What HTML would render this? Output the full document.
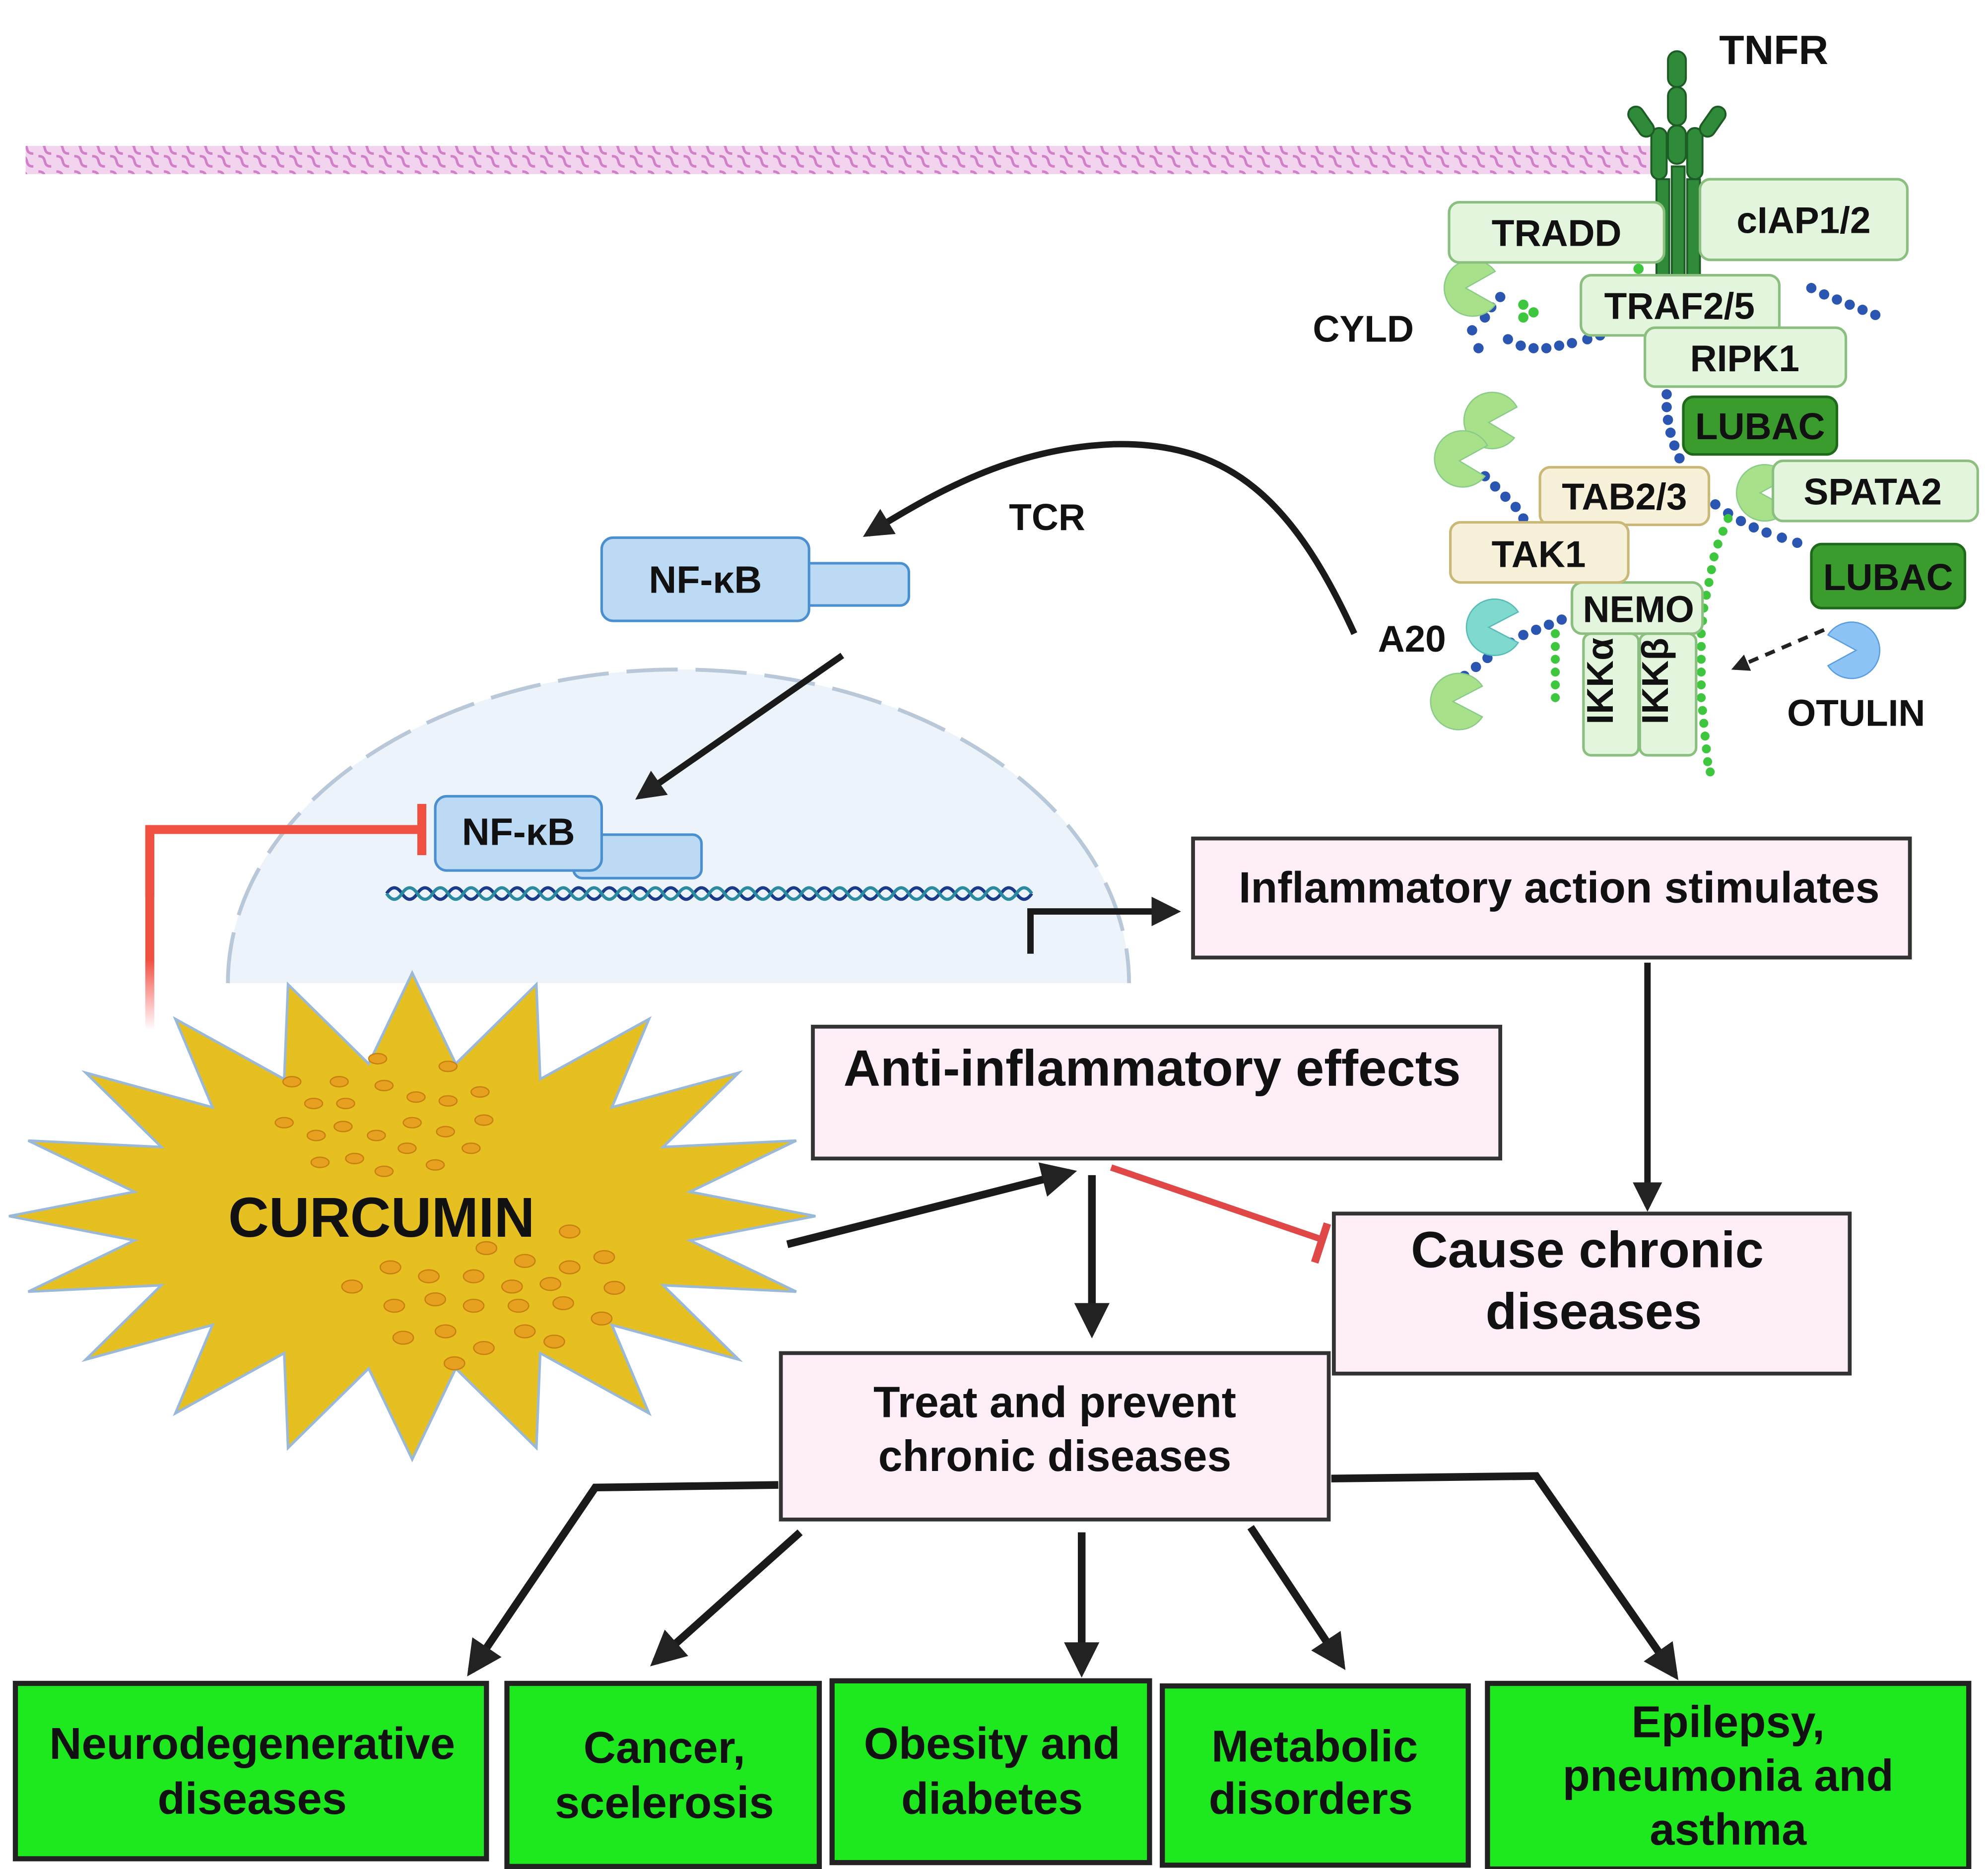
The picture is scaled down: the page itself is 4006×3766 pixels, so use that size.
<!DOCTYPE html>
<html><head><meta charset="utf-8"><style>
html,body{margin:0;padding:0;background:#fff;}
svg{display:block;}
text{font-family:"Liberation Sans",sans-serif;font-weight:bold;fill:#111;}
</style></head><body>
<svg width="4006" height="3766" viewBox="0 0 1553 1460" xmlns="http://www.w3.org/2000/svg">
<defs>
<marker id="ah" viewBox="0 0 10 10" refX="8" refY="5" markerWidth="4.6" markerHeight="4.6" orient="auto"><path d="M0,0 L10,5 L0,10 z" fill="#222"/></marker>
<linearGradient id="rg" x1="0" y1="1" x2="0" y2="0"><stop offset="0" stop-color="#f55" stop-opacity="0"/><stop offset="0.35" stop-color="#f05040"/><stop offset="1" stop-color="#f05040"/></linearGradient>
<pattern id="mem" width="14" height="22" patternUnits="userSpaceOnUse"><path d="M2,2 C10,2 4,10 12,10 M2,12 C10,12 4,20 12,20" stroke="#d080c8" stroke-width="2" fill="none"/></pattern>
</defs>
<rect x="20" y="114" width="1280" height="22" fill="#f3d4ee"/>
<rect x="20" y="114" width="1280" height="22" fill="url(#mem)"/>
<g fill="#2f8a3a" stroke="#1d5c25" stroke-width="1.5">
<rect x="1303" y="40" width="14" height="28" rx="7"/><rect x="1303" y="68" width="14" height="30" rx="7"/>
<rect x="1303" y="98" width="14" height="30" rx="7"/>
<rect x="1290" y="100" width="12" height="40" rx="6"/><rect x="1318" y="100" width="12" height="40" rx="6"/>
<rect x="1276" y="82" width="12" height="26" rx="6" transform="rotate(-35 1282 95)"/><rect x="1332" y="82" width="12" height="26" rx="6" transform="rotate(35 1338 95)"/>
<rect x="1294" y="140" width="10" height="75"/><rect x="1306" y="130" width="10" height="85"/><rect x="1318" y="140" width="10" height="75"/>
</g>
<text x="1343" y="50" font-size="32" fill="#222">TNFR</text>
<g fill="#2a55b0">
<circle cx="1155" cy="272" r="4"/><circle cx="1165" cy="240" r="4"/><circle cx="1172" cy="232" r="4"/><circle cx="1160" cy="248" r="4"/><circle cx="1150" cy="258" r="4"/>
<circle cx="1178" cy="265" r="4"/><circle cx="1188" cy="270" r="4"/><circle cx="1198" cy="272" r="4"/><circle cx="1208" cy="272" r="4"/><circle cx="1218" cy="270" r="4"/><circle cx="1228" cy="268" r="4"/><circle cx="1240" cy="265" r="4"/><circle cx="1250" cy="262" r="4"/>
<circle cx="1415" cy="225" r="4"/><circle cx="1425" cy="230" r="4"/><circle cx="1435" cy="234" r="4"/><circle cx="1445" cy="238" r="4"/><circle cx="1455" cy="242" r="4"/><circle cx="1465" cy="246" r="4"/>
<circle cx="1302" cy="298" r="4"/><circle cx="1302" cy="308" r="4"/><circle cx="1302" cy="318" r="4"/><circle cx="1303" cy="328" r="4"/><circle cx="1305" cy="338" r="4"/><circle cx="1308" cy="348" r="4"/><circle cx="1312" cy="358" r="4"/><circle cx="1318" cy="368" r="4"/><circle cx="1325" cy="377" r="4"/><circle cx="1332" cy="386" r="4"/><circle cx="1340" cy="394" r="4"/><circle cx="1350" cy="401" r="4"/><circle cx="1360" cy="407" r="4"/><circle cx="1370" cy="412" r="4"/><circle cx="1380" cy="416" r="4"/><circle cx="1392" cy="420" r="4"/><circle cx="1404" cy="424" r="4"/>
<circle cx="1160" cy="372" r="4"/><circle cx="1168" cy="380" r="4"/><circle cx="1176" cy="388" r="4"/><circle cx="1184" cy="396" r="4"/><circle cx="1190" cy="405" r="4"/><circle cx="1195" cy="414" r="4"/>
<circle cx="1135" cy="535" r="4"/><circle cx="1144" cy="528" r="4"/><circle cx="1153" cy="521" r="4"/><circle cx="1162" cy="514" r="4"/><circle cx="1180" cy="502" r="4"/><circle cx="1190" cy="496" r="4"/><circle cx="1200" cy="492" r="4"/><circle cx="1210" cy="488" r="4"/><circle cx="1220" cy="484" r="4"/>
</g>
<g fill="#3ec63e">
<circle cx="1190" cy="238" r="4"/><circle cx="1198" cy="244" r="4"/><circle cx="1190" cy="248" r="4"/><circle cx="1280" cy="210" r="4"/>
<circle cx="1215" cy="495" r="3.5"/><circle cx="1215" cy="505" r="3.5"/><circle cx="1215" cy="515" r="3.5"/><circle cx="1215" cy="525" r="3.5"/><circle cx="1215" cy="535" r="3.5"/><circle cx="1215" cy="545" r="3.5"/>
<circle cx="1350" cy="405" r="3.5"/><circle cx="1346" cy="415" r="3.5"/><circle cx="1342" cy="425" r="3.5"/><circle cx="1339" cy="435" r="3.5"/><circle cx="1337" cy="445" r="3.5"/><circle cx="1335" cy="455" r="3.5"/><circle cx="1333" cy="465" r="3.5"/><circle cx="1331" cy="475" r="3.5"/><circle cx="1330" cy="485" r="3.5"/><circle cx="1329" cy="495" r="3.5"/><circle cx="1329" cy="505" r="3.5"/><circle cx="1329" cy="515" r="3.5"/><circle cx="1329" cy="525" r="3.5"/><circle cx="1329" cy="535" r="3.5"/><circle cx="1329" cy="545" r="3.5"/><circle cx="1330" cy="555" r="3.5"/><circle cx="1331" cy="565" r="3.5"/><circle cx="1332" cy="575" r="3.5"/><circle cx="1333" cy="585" r="3.5"/><circle cx="1334" cy="595" r="3.5"/><circle cx="1336" cy="603" r="3.5"/>
</g>
<g fill="#a9e08a" stroke="#8c8" stroke-width="1">
<path d="M1145,225 L1168,212 A22,22 0 1,0 1168,238 Z"/>
<path d="M1163,330 L1185,318 A22,22 0 1,0 1183,342 Z"/>
<path d="M1140,360 L1162,348 A22,22 0 1,0 1160,372 Z"/>
<path d="M1135,548 L1158,536 A22,22 0 1,0 1158,560 Z"/>
<path d="M1375,385 L1397,373 A22,22 0 1,0 1397,397 Z"/>
</g>
<path d="M1163,490 L1186,478 A22,22 0 1,0 1186,502 Z" fill="#7fd9cc" stroke="#5bb" stroke-width="1"/>
<path d="M1450,508 L1428,496 A22,22 0 1,1 1428,520 Z" fill="#8ec4f5" stroke="#5a9ee0" stroke-width="1"/>
<g stroke="#8bbf80" stroke-width="2" fill="#e3f5dc">
<rect x="1132" y="158" width="168" height="47" rx="8"/>
<rect x="1328" y="140" width="162" height="63" rx="8"/>
<rect x="1235" y="215" width="155" height="47" rx="8"/>
<rect x="1285" y="256" width="157" height="46" rx="8"/>
<rect x="1385" y="360" width="160" height="47" rx="8"/>
<rect x="1228" y="455" width="102" height="40" rx="8"/>
<rect x="1237" y="495" width="43" height="95" rx="6"/>
<rect x="1281" y="495" width="44" height="95" rx="6"/>
</g>
<g stroke="#c9b878" stroke-width="2" fill="#f6f1d8">
<rect x="1203" y="365" width="132" height="45" rx="8"/>
<rect x="1133" y="408" width="139" height="47" rx="8"/>
</g>
<g stroke="#1f6a1a" stroke-width="2" fill="#3a9c2c">
<rect x="1315" y="310" width="120" height="45" rx="8"/>
<rect x="1415" y="425" width="120" height="50" rx="8"/>
</g>
<g font-size="29">
<text x="1216" y="192" text-anchor="middle">TRADD</text>
<text x="1409" y="182" text-anchor="middle">cIAP1/2</text>
<text x="1312" y="249" text-anchor="middle">TRAF2/5</text>
<text x="1363" y="290" text-anchor="middle">RIPK1</text>
<text x="1375" y="343" text-anchor="middle" fill="#5a1010">LUBAC</text>
<text x="1269" y="398" text-anchor="middle">TAB2/3</text>
<text x="1463" y="394" text-anchor="middle">SPATA2</text>
<text x="1202" y="443" text-anchor="middle">TAK1</text>
<text x="1475" y="461" text-anchor="middle" fill="#111">LUBAC</text>
<text x="1280" y="486" text-anchor="middle">NEMO</text>
<text x="1270" y="542" text-anchor="middle" transform="rotate(-90 1260 542)">IKKα</text>
<text x="1313" y="542" text-anchor="middle" transform="rotate(-90 1303 542)">IKKβ</text>
<text x="1065" y="267" text-anchor="middle" fill="#333">CYLD</text>
<text x="1103" y="509" text-anchor="middle" fill="#333">A20</text>
<text x="1450" y="567" text-anchor="middle" fill="#333">OTULIN</text>
<text x="818" y="414" text-anchor="middle" fill="#333">TCR</text>
</g>
<path d="M1425,492 L1355,522" stroke="#222" stroke-width="3" stroke-dasharray="8,6" fill="none" marker-end="url(#ah)"/>
<path d="M1058,495 C1010,390 960,345 870,347 C790,350 730,385 678,417" stroke="#1a1a1a" stroke-width="5" fill="none" marker-end="url(#ah)"/>
<rect x="620" y="440" width="90" height="33" rx="7" fill="#bcdaf4" stroke="#4a90d0" stroke-width="2"/>
<rect x="470" y="420" width="162" height="65" rx="9" fill="#bcdaf4" stroke="#4a90d0" stroke-width="2"/>
<text x="551" y="463" text-anchor="middle" font-size="30">NF-κB</text>
<path d="M178,768 A352,245 0 0,1 882,768 Z" fill="#edf3fa"/>
<path d="M182,752 A352,245 0 0,1 882,768" fill="none" stroke="#b8c8d8" stroke-width="3" stroke-dasharray="40,14" transform="translate(0,0)" opacity="0"/>
<path d="M178,768 A352,245 0 0,1 882,768" fill="none" stroke="#b8c8d8" stroke-width="3" stroke-dasharray="40,14"/>
<path d="M658,512 L500,622" stroke="#1a1a1a" stroke-width="5" fill="none" marker-end="url(#ah)"/>
<rect x="448" y="652" width="100" height="34" rx="7" fill="#bcdaf4" stroke="#4a90d0" stroke-width="2"/>
<rect x="340" y="622" width="130" height="58" rx="9" fill="#bcdaf4" stroke="#4a90d0" stroke-width="2"/>
<text x="405" y="660" text-anchor="middle" font-size="30">NF-κB</text>
<path d="M302,698 q6,-9 12,0 t12,0 t12,0 t12,0 t12,0 t12,0 t12,0 t12,0 t12,0 t12,0 t12,0 t12,0 t12,0 t12,0 t12,0 t12,0 t12,0 t12,0 t12,0 t12,0 t12,0 t12,0 t12,0 t12,0 t12,0 t12,0 t12,0 t12,0 t12,0 t12,0 t12,0 t12,0 t12,0 t12,0 t12,0 t12,0 t12,0 t12,0 t12,0 t12,0 t12,0 t12,0" stroke="#1a3a8a" stroke-width="2.5" fill="none"/>
<path d="M302,698 q6,9 12,0 t12,0 t12,0 t12,0 t12,0 t12,0 t12,0 t12,0 t12,0 t12,0 t12,0 t12,0 t12,0 t12,0 t12,0 t12,0 t12,0 t12,0 t12,0 t12,0 t12,0 t12,0 t12,0 t12,0 t12,0 t12,0 t12,0 t12,0 t12,0 t12,0 t12,0 t12,0 t12,0 t12,0 t12,0 t12,0 t12,0 t12,0 t12,0 t12,0 t12,0 t12,0" stroke="#2a8aa0" stroke-width="2.5" fill="none"/>
<path d="M117,805 L117,648 L328,648" stroke="url(#rg)" stroke-width="7" fill="none"/>
<path d="M117,700 L117,648 L328,648" stroke="#f05040" stroke-width="7" fill="none"/>
<rect x="326" y="628" width="7" height="40" fill="#f05040"/>
<path d="M805,745 L805,712 L918,712" stroke="#1a1a1a" stroke-width="5" fill="none" marker-end="url(#ah)"/>
<rect x="932" y="655" width="560" height="93" fill="#fdeef8" stroke="#333" stroke-width="3"/>
<text x="1218" y="705" text-anchor="middle" font-size="34">Inflammatory action stimulates</text>
<path d="M1287,752 L1287,942" stroke="#1a1a1a" stroke-width="5" fill="none" marker-end="url(#ah)"/>
<rect x="635" y="802" width="537" height="103" fill="#fdeef8" stroke="#333" stroke-width="3"/>
<text x="900" y="848" text-anchor="middle" font-size="40">Anti-inflammatory effects</text>
<rect x="1042" y="948" width="403" height="125" fill="#fdeef8" stroke="#333" stroke-width="3"/>
<text x="1240" y="990" text-anchor="middle" font-size="40">Cause chronic</text>
<text x="1245" y="1038" text-anchor="middle" font-size="40">diseases</text>
<polygon fill="#e6c020" stroke="#9ab8d8" stroke-width="2" points="637,950 539,969 622,1009 518,1004 577,1062 478,1035 507,1104 422,1057 419,1131 356,1069 322,1140 288,1069 225,1131 222,1057 137,1104 166,1035 67,1062 126,1004 22,1009 105,969 7,950 105,931 22,891 126,896 67,838 166,865 137,796 222,843 225,769 288,831 322,760 356,831 419,769 422,843 507,796 478,865 577,838 518,896 622,891 539,931"/>
<g fill="#e8a020" stroke="#c88010" stroke-width="1">
<ellipse cx="228" cy="845" rx="7" ry="4"/><ellipse cx="265" cy="845" rx="7" ry="4"/><ellipse cx="295" cy="827" rx="7" ry="4"/><ellipse cx="350" cy="833" rx="7" ry="4"/><ellipse cx="245" cy="862" rx="7" ry="4"/><ellipse cx="270" cy="862" rx="7" ry="4"/><ellipse cx="300" cy="848" rx="7" ry="4"/><ellipse cx="325" cy="857" rx="7" ry="4"/><ellipse cx="350" cy="860" rx="7" ry="4"/><ellipse cx="375" cy="853" rx="7" ry="4"/>
<ellipse cx="222" cy="877" rx="7" ry="4"/><ellipse cx="247" cy="887" rx="7" ry="4"/><ellipse cx="268" cy="880" rx="7" ry="4"/><ellipse cx="294" cy="887" rx="7" ry="4"/><ellipse cx="322" cy="877" rx="7" ry="4"/><ellipse cx="348" cy="884" rx="7" ry="4"/><ellipse cx="378" cy="875" rx="7" ry="4"/>
<ellipse cx="250" cy="908" rx="7" ry="4"/><ellipse cx="277" cy="905" rx="7" ry="4"/><ellipse cx="300" cy="915" rx="7" ry="4"/><ellipse cx="318" cy="897" rx="7" ry="4"/><ellipse cx="340" cy="910" rx="7" ry="4"/><ellipse cx="368" cy="897" rx="7" ry="4"/>
<ellipse cx="445" cy="962" rx="8" ry="5"/><ellipse cx="380" cy="975" rx="8" ry="5"/><ellipse cx="410" cy="985" rx="8" ry="5"/><ellipse cx="445" cy="990" rx="8" ry="5"/><ellipse cx="472" cy="982" rx="8" ry="5"/><ellipse cx="275" cy="1005" rx="8" ry="5"/><ellipse cx="305" cy="990" rx="8" ry="5"/><ellipse cx="335" cy="997" rx="8" ry="5"/><ellipse cx="370" cy="997" rx="8" ry="5"/><ellipse cx="400" cy="1005" rx="8" ry="5"/><ellipse cx="430" cy="1003" rx="8" ry="5"/><ellipse cx="480" cy="1006" rx="8" ry="5"/>
<ellipse cx="308" cy="1020" rx="8" ry="5"/><ellipse cx="340" cy="1015" rx="8" ry="5"/><ellipse cx="370" cy="1020" rx="8" ry="5"/><ellipse cx="405" cy="1020" rx="8" ry="5"/><ellipse cx="440" cy="1018" rx="8" ry="5"/><ellipse cx="470" cy="1030" rx="8" ry="5"/><ellipse cx="315" cy="1045" rx="8" ry="5"/><ellipse cx="348" cy="1040" rx="8" ry="5"/><ellipse cx="378" cy="1053" rx="8" ry="5"/><ellipse cx="410" cy="1040" rx="8" ry="5"/><ellipse cx="433" cy="1048" rx="8" ry="5"/><ellipse cx="355" cy="1065" rx="8" ry="5"/>
</g>
<text x="298" y="966" text-anchor="middle" font-size="44">CURCUMIN</text>
<path d="M615,972 L836,916" stroke="#1a1a1a" stroke-width="6" fill="none" marker-end="url(#ah)"/>
<path d="M853,918 L853,1040" stroke="#1a1a1a" stroke-width="6" fill="none" marker-end="url(#ah)"/>
<path d="M868,912 L1032,968" stroke="#e04848" stroke-width="5" fill="none"/>
<rect x="1029" y="955" width="6" height="32" fill="#e04848" transform="rotate(18 1032 971)"/>
<rect x="610" y="1057" width="428" height="130" fill="#fdeef8" stroke="#333" stroke-width="3"/>
<text x="824" y="1107" text-anchor="middle" font-size="34">Treat and prevent</text>
<text x="824" y="1149" text-anchor="middle" font-size="34">chronic diseases</text>
<g stroke="#1a1a1a" stroke-width="6" fill="none" marker-end="url(#ah)">
<path d="M608,1160 L465,1162 L368,1305"/>
<path d="M625,1197 L512,1298"/>
<path d="M845,1197 L845,1305"/>
<path d="M977,1193 L1048,1300"/>
<path d="M1040,1155 L1200,1153 L1308,1308"/>
</g>
<g fill="#1ee81e" stroke="#222" stroke-width="4">
<rect x="12" y="1315" width="368" height="137"/>
<rect x="396" y="1315" width="244" height="143"/>
<rect x="650" y="1313" width="248" height="142"/>
<rect x="908" y="1317" width="239" height="140"/>
<rect x="1162" y="1315" width="376" height="145"/>
</g>
<g font-size="35" text-anchor="middle">
<text x="197" y="1374">Neurodegenerative</text><text x="197" y="1417">diseases</text>
<text x="519" y="1377">Cancer,</text><text x="519" y="1420">scelerosis</text>
<text x="775" y="1374">Obesity and</text><text x="775" y="1417">diabetes</text>
<text x="1027" y="1376">Metabolic</text><text x="1024" y="1417">disorders</text>
<text x="1350" y="1357">Epilepsy,</text><text x="1350" y="1399">pneumonia and</text><text x="1350" y="1441">asthma</text>
</g>
</svg>
</body></html>
